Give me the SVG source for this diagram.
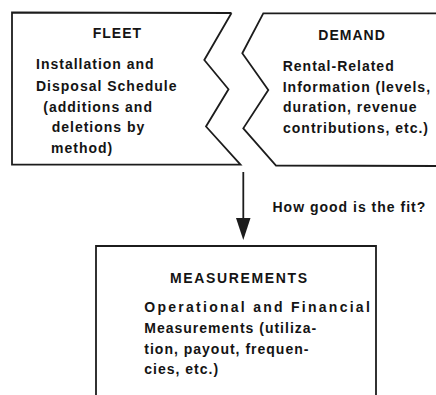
<svg xmlns="http://www.w3.org/2000/svg" width="436" height="395" viewBox="0 0 436 395">
<style>
.shape{fill:none;stroke:#1c1c1c;stroke-width:1.8;stroke-linejoin:miter}
.t{font-family:"Liberation Sans",Arial,Helvetica,sans-serif;font-weight:bold;font-size:14px;fill:#141414;letter-spacing:1px}
.conn{stroke:#1c1c1c;stroke-width:1.8;fill:none}
.head{fill:#1c1c1c}
</style>
<rect width="436" height="395" fill="#ffffff"/>
<g id="fleet">
<path class="shape" d="M231.5,13 L12,12.5 L12,164.7 L240.5,164.7 L206,126.5 L228.5,89.3 L204.3,60 L231.5,13"/>
<text class="t" x="92.7" y="38.3">FLEET</text>
<text class="t" x="36" y="69.3">Installation and</text>
<text class="t" x="36" y="90.8">Disposal Schedule</text>
<text class="t" x="43.3" y="111.7">(additions and</text>
<text class="t" x="51.7" y="131.9">deletions by</text>
<text class="t" x="51" y="153">method)</text>
</g>
<g id="demand">
<path class="shape" d="M437,13.3 L263.3,13.3 L242.3,53.3 L268.3,90 L243.3,128.3 L276,165.5 L437,166"/>
<text class="t" x="318.3" y="40">DEMAND</text>
<text class="t" x="282.7" y="70.5">Rental-Related</text>
<text class="t" x="282.7" y="91.7">Information (levels,</text>
<text class="t" x="283" y="112.3">duration, revenue</text>
<text class="t" x="283" y="132.8">contributions, etc.)</text>
</g>
<g id="measurements">
<path class="shape" d="M96,395 L96,246 L376,246 L376,395"/>
<text class="t" x="170" y="283.3" textLength="138" lengthAdjust="spacing">MEASUREMENTS</text>
<text class="t" x="144.3" y="311.7" textLength="226.5" lengthAdjust="spacing">Operational and Financial</text>
<text class="t" x="144.3" y="333.2">Measurements (utiliza-</text>
<text class="t" x="144.3" y="353.5">tion, payout, frequen-</text>
<text class="t" x="144.3" y="374">cies, etc.)</text>
</g>
<g id="connectors">
<line class="conn" x1="243.3" y1="172" x2="243.3" y2="222"/>
<path class="head" d="M236,218 L250.5,218 L243.3,240 Z"/>
<text class="t" x="272.5" y="211.7">How good is the fit?</text>
</g>
</svg>
